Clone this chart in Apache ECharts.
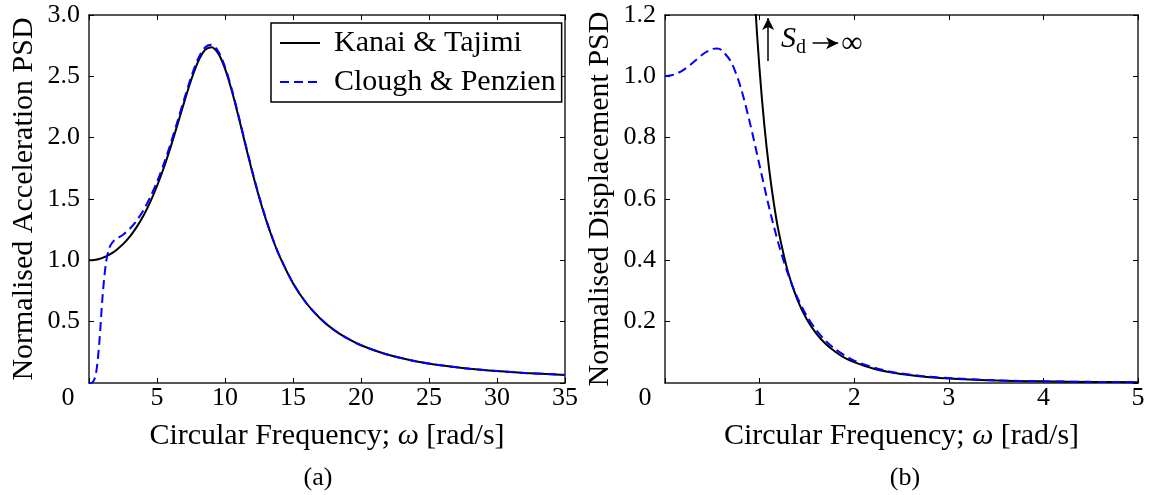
<!DOCTYPE html>
<html>
<head>
<meta charset="utf-8">
<style>
  html, body { margin: 0; padding: 0; background: #fff; }
  #chart { width: 1173px; height: 495px; }
</style>
<script src="https://cdn.jsdelivr.net/npm/echarts@6.0.0/dist/echarts.min.js"></script>
</head>
<body>
<div id="chart"></div>
<script>
// (a) normalised acceleration PSD
const omegaA = [0, 0.25, 0.5, 0.75, 1, 1.25, 1.5, 1.75, 2, 2.5, 3, 3.5, 4, 4.5, 5, 5.5, 6, 6.5, 7, 7.5,
  8, 8.5, 9, 9.5, 10, 10.5, 11, 11.5, 12, 12.5, 13, 13.5, 14, 15, 16, 17, 18, 19, 20, 22, 24, 26, 28, 30, 32, 35]
const ktAccel = [1.000, 1.001, 1.005, 1.011, 1.020, 1.032, 1.046, 1.063, 1.083, 1.132, 1.194, 1.271, 1.364, 1.475,
  1.606, 1.755, 1.923, 2.104, 2.290, 2.466, 2.614, 2.711, 2.738, 2.687, 2.563, 2.382, 2.168, 1.943, 1.723, 1.519,
  1.336, 1.176, 1.036, 0.813, 0.648, 0.526, 0.433, 0.363, 0.308, 0.230, 0.178, 0.142, 0.116, 0.097, 0.082, 0.066]
const cpAccel = [0, 0.004, 0.068, 0.319, 0.709, 0.982, 1.103, 1.151, 1.174, 1.209, 1.257, 1.323, 1.408, 1.514,
  1.640, 1.786, 1.951, 2.131, 2.315, 2.490, 2.637, 2.732, 2.757, 2.704, 2.577, 2.394, 2.178, 1.951, 1.730, 1.525,
  1.341, 1.179, 1.039, 0.815, 0.649, 0.527, 0.434, 0.363, 0.308, 0.230, 0.178, 0.142, 0.116, 0.097, 0.082, 0.066]

// (b) normalised displacement PSD
const omegaDK = [0.85, 0.9, 0.95, 1.0, 1.05, 1.1, 1.15, 1.2, 1.3, 1.4, 1.5, 1.6, 1.7, 1.8, 1.9, 2.0,
  2.2, 2.4, 2.6, 2.8, 3.0, 3.5, 4.0, 4.5, 5.0]
const ktDisp = [1.944, 1.549, 1.250, 1.020, 0.841, 0.700, 0.587, 0.496, 0.362, 0.271, 0.207, 0.161, 0.127,
  0.102, 0.082, 0.068, 0.047, 0.034, 0.025, 0.019, 0.015, 0.0085, 0.0053, 0.0036, 0.0026]
const omegaDC = [0, 0.1, 0.2, 0.3, 0.4, 0.5, 0.55, 0.6, 0.7, 0.8, 0.9, 1.0, 1.1, 1.2, 1.3, 1.4, 1.5, 1.6,
  1.7, 1.8, 1.9, 2.0, 2.2, 2.4, 2.6, 2.8, 3.0, 3.5, 4.0, 4.5, 5.0]
const cpDisp = [1.000, 1.006, 1.022, 1.046, 1.072, 1.089, 1.091, 1.085, 1.046, 0.964, 0.845, 0.709, 0.573,
  0.454, 0.356, 0.278, 0.218, 0.172, 0.137, 0.110, 0.090, 0.073, 0.051, 0.036, 0.027, 0.020, 0.016, 0.0088,
  0.0055, 0.0037, 0.0026]

const seriesNames = ['Kanai & Tajimi', 'Clough & Penzien']
const xTitle = 'Circular Frequency; {i|ω} [rad/s]'

const FONT = '"Liberation Serif", "DejaVu Serif", serif'
const FS = 26      // tick labels
const FT = 30      // axis titles, legend

const zip = (xs, ys) => xs.map((x, i) => [x, ys[i]])

const chart = echarts.init(document.getElementById('chart'))

const tick = { show: true, inside: true, length: 5, lineStyle: { color: '#000', width: 1 } }
const frame = { show: true, onZero: false, lineStyle: { color: '#222', width: 1.5 } }

// bottom x axis, "0" pushed left into the corner
const xBottom = (grid, max, interval, zeroShift) => ({
  gridIndex: grid, type: 'value', position: 'bottom', min: 0, max: max, interval: interval,
  axisLine: frame, axisTick: tick, splitLine: { show: false },
  axisLabel: {
    color: '#000', fontFamily: FONT, fontSize: FS, margin: 2,
    formatter: v => v === 0 ? '{z|0}' : String(v),
    rich: { z: { fontFamily: FONT, fontSize: FS, color: '#000', padding: [0, zeroShift, 0, 0] } }
  },
  name: xTitle, nameLocation: 'middle', nameGap: 38,
  nameTextStyle: {
    color: '#000', fontFamily: FONT, fontSize: FT,
    rich: { i: { fontFamily: FONT, fontSize: FT, fontStyle: 'italic', color: '#000' } }
  }
})
const xTop = (grid, max, interval) => ({
  gridIndex: grid, type: 'value', position: 'top', min: 0, max: max, interval: interval,
  axisLine: frame, axisTick: tick, axisLabel: { show: false }, splitLine: { show: false }
})
const yLeft = (grid, max, interval, title) => ({
  gridIndex: grid, type: 'value', position: 'left', min: 0, max: max, interval: interval,
  axisLine: frame, axisTick: tick, splitLine: { show: false },
  axisLabel: {
    color: '#000', fontFamily: FONT, fontSize: FS, margin: 9, showMinLabel: false,
    formatter: v => v.toFixed(1)
  },
  name: title, nameLocation: 'middle', nameGap: 50,
  nameTextStyle: { color: '#000', fontFamily: FONT, fontSize: FT }
})
const yRight = (grid, max, interval) => ({
  gridIndex: grid, type: 'value', position: 'right', min: 0, max: max, interval: interval,
  axisLine: frame, axisTick: tick, axisLabel: { show: false }, splitLine: { show: false }
})

const blackLine = { color: '#000', width: 2 }
const blueDash = { color: '#0000ff', width: 2, type: [9, 5] }
const arrowStyle = { color: '#000', width: 1.5, type: 'solid' }

const option = {
  animation: false,
  backgroundColor: '#fff',
  grid: [
    { left: 89, top: 15, width: 476, height: 368 },
    { left: 665, top: 15, width: 473, height: 368 }
  ],
  legend: {
    data: seriesNames,
    orient: 'vertical',
    left: 271, top: 23,
    padding: [5, 6, 5, 8],
    itemGap: 9, itemWidth: 40, itemHeight: 14,
    borderColor: '#000', borderWidth: 1.5, backgroundColor: '#fff',
    selectedMode: false,
    itemStyle: { opacity: 0 },
    formatter: n => '{t|' + n + '}',
    textStyle: {
      color: '#000', fontFamily: FONT, fontSize: FT, lineHeight: 30,
      rich: { t: { fontFamily: FONT, fontSize: FT, color: '#000', lineHeight: 30, padding: [0, 0, 0, 9] } }
    }
  },
  xAxis: [
    xBottom(0, 35, 5, 42), xTop(0, 35, 5),
    xBottom(1, 5, 1, 40), xTop(1, 5, 1)
  ],
  yAxis: [
    yLeft(0, 3, 0.5, 'Normalised Acceleration PSD'), yRight(0, 3, 0.5),
    yLeft(1, 1.2, 0.2, 'Normalised Displacement PSD'), yRight(1, 1.2, 0.2)
  ],
  series: [
    {
      name: seriesNames[0], type: 'line', xAxisIndex: 0, yAxisIndex: 0,
      data: zip(omegaA, ktAccel), symbol: 'none', smooth: 0.3,
      lineStyle: blackLine, itemStyle: { color: '#000' }
    },
    {
      name: seriesNames[1], type: 'line', xAxisIndex: 0, yAxisIndex: 0,
      data: zip(omegaA, cpAccel), symbol: 'none', smooth: 0.3,
      lineStyle: blueDash, itemStyle: { color: '#0000ff' }
    },
    {
      name: seriesNames[0], type: 'line', xAxisIndex: 2, yAxisIndex: 2,
      data: zip(omegaDK, ktDisp), symbol: 'none', smooth: 0.3, clip: true,
      lineStyle: blackLine, itemStyle: { color: '#000' },
      markLine: {
        silent: true, symbol: ['none', 'arrow'], symbolSize: [9, 12],
        label: { show: false },
        lineStyle: arrowStyle,
        data: [
          [{ coord: [1.09, 1.05] }, { coord: [1.09, 1.19] }],
          [{ coord: [1.56, 1.108] }, { coord: [1.83, 1.108] }]
        ]
      }
    },
    {
      name: seriesNames[1], type: 'line', xAxisIndex: 2, yAxisIndex: 2,
      data: zip(omegaDC, cpDisp), symbol: 'none', smooth: 0.3,
      lineStyle: blueDash, itemStyle: { color: '#0000ff' }
    }
  ],
  graphic: [
    {
      type: 'text', x: 781, y: 54,
      style: {
        text: '{s|S}{d|d}',
        verticalAlign: 'bottom',
        rich: {
          s: { fontFamily: FONT, fontSize: 30, fontStyle: 'italic', fill: '#000', verticalAlign: 'bottom' },
          d: { fontFamily: FONT, fontSize: 20, fill: '#000', verticalAlign: 'bottom', padding: [0, 0, -4, 0] }
        }
      }
    },
    {
      type: 'text', x: 852, y: 44,
      style: { text: '∞', fontFamily: FONT, fontSize: 30, fill: '#000', align: 'center', verticalAlign: 'middle' }
    },
    {
      type: 'text', x: 318, y: 478,
      style: { text: '(a)', fontFamily: FONT, fontSize: FS, fill: '#000', align: 'center', verticalAlign: 'middle' }
    },
    {
      type: 'text', x: 905, y: 478,
      style: { text: '(b)', fontFamily: FONT, fontSize: FS, fill: '#000', align: 'center', verticalAlign: 'middle' }
    }
  ]
}

chart.setOption(option)
</script>
</body>
</html>
